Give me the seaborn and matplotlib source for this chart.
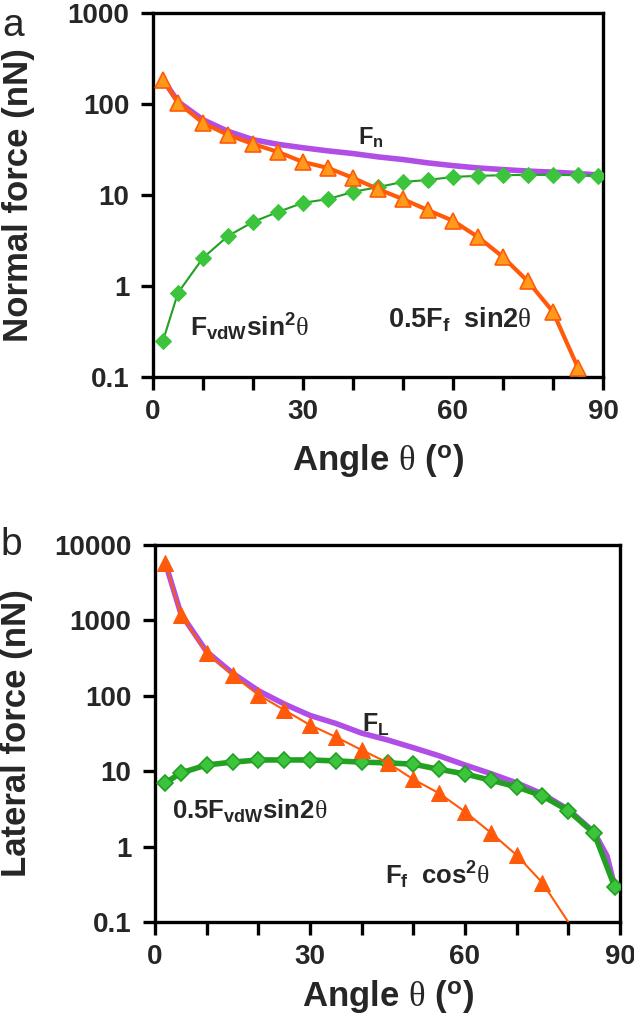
import numpy as np
import pandas as pd
import seaborn as sns
import matplotlib.pyplot as plt
from matplotlib.ticker import FixedLocator, MultipleLocator, NullLocator

# ---- panel a: normal force ----
angle_ff_a = [2, 5, 10, 15, 20, 25, 30, 35, 40, 45, 50, 55, 60, 65, 70, 75, 80, 85, 90]
ff_sin2_a = [185, 103, 62, 45.6, 36.3, 29.7, 23, 19.8, 15.4, 11.6, 9.0, 6.8, 5.2,
             3.45, 2.08, 1.12, 0.52, 0.126, 0.02]
angle_vdw_a = [2, 5, 10, 15, 20, 25, 30, 35, 40, 45, 50, 55, 60, 65, 70, 75, 80, 85, 89]
vdw_sinsq_a = [0.25, 0.84, 2.03, 3.54, 5.05, 6.5, 8.2, 9.0, 10.8, 12.2, 13.9, 14.6,
               15.8, 16.2, 16.5, 16.6, 16.6, 16.5, 16.2]
fn_total = [186, 106, 67, 50, 40.5, 36, 33, 30.5, 28.5, 26.2, 24.5, 22.5, 21, 19.8,
            19, 18.3, 17.8, 17.2, 16.6]

# ---- panel b: lateral force ----
angle_ff_b = [2, 5, 10, 15, 20, 25, 30, 35, 40, 45, 50, 55, 60, 65, 70, 75, 85]
ff_cossq_b = [5800, 1180, 370, 189, 103, 65, 41, 28.5, 19.1, 13, 7.8, 5.1, 2.9,
              1.53, 0.77, 0.33, 0.03]
angle_vdw_b = [2, 5, 10, 15, 20, 25, 30, 35, 40, 45, 50, 55, 60, 65, 70, 75, 80, 85, 89]
vdw_sin2_b = [7.0, 9.5, 12.1, 13.2, 14.1, 14.1, 14.1, 13.7, 13.2, 12.9, 12.4, 10.6,
              9.2, 7.6, 6.2, 4.7, 3.0, 1.5, 0.29]
angle_fl = [2, 5, 10, 15, 20, 25, 30, 35, 40, 45, 50, 55, 60, 65, 70, 75, 80, 85, 87.5, 89]
fl_total = [5800, 1230, 385, 200, 117, 78, 55, 43, 32, 26, 20.5, 16, 12.1, 9.3, 7.0,
            5.0, 3.1, 1.55, 0.75, 0.29]

yticks_a = [0.1, 1, 10, 100, 1000]
yticks_b = [0.1, 1, 10, 100, 1000, 10000]
ytick_labels_a = ['0.1', '1', '10', '100', '1000']
ytick_labels_b = ['0.1', '1', '10', '100', '1000', '10000']
xticks = [0, 30, 60, 90]

sns.set_style("ticks")
plt.rcParams['font.family'] = ['Liberation Sans', 'DejaVu Sans']
plt.rcParams['font.weight'] = 'bold'
plt.rcParams['mathtext.fontset'] = 'custom'
plt.rcParams['mathtext.rm'] = 'Liberation Sans:bold'
plt.rcParams['mathtext.bf'] = 'Liberation Sans:bold'
# greek theta in a plain serif face, like the original
plt.rcParams['mathtext.it'] = 'Liberation Serif:weight=normal:style=normal'

purple = '#b04ee6'
orange_line = '#ff5a0a'
orange_face = '#ff9a1a'
green_line = '#22a022'
green_face = '#3cc43c'

fig = plt.figure(figsize=(6.34, 10.18), dpi=100)
ax1 = fig.add_axes([0.2413, 0.6297, 0.7098, 0.3576])
ax2 = fig.add_axes([0.2445, 0.0943, 0.7334, 0.3703])

# panel a
sns.lineplot(x=angle_vdw_a, y=fn_total, ax=ax1, color=purple, linewidth=4, zorder=2)
sns.lineplot(x=angle_vdw_a, y=vdw_sinsq_a, ax=ax1, color=green_line, linewidth=1.5,
             marker='D', markersize=8, markerfacecolor=green_face,
             markeredgecolor=green_face, zorder=3)
sns.lineplot(x=angle_ff_a, y=ff_sin2_a, ax=ax1, color=orange_line, linewidth=3,
             marker='^', markersize=11, markerfacecolor=orange_face,
             markeredgecolor=orange_line, markeredgewidth=1.2, zorder=4)

# panel b
sns.lineplot(x=angle_fl, y=fl_total, ax=ax2, color=purple, linewidth=4, zorder=2)
sns.lineplot(x=angle_vdw_b, y=vdw_sin2_b, ax=ax2, color=green_line, linewidth=4,
             marker='D', markersize=8, markerfacecolor=green_face,
             markeredgecolor=green_line, markeredgewidth=1.2, zorder=3)
sns.lineplot(x=angle_ff_b, y=ff_cossq_b, ax=ax2, color=orange_line, linewidth=1.5,
             marker='^', markersize=12, markerfacecolor=orange_line,
             markeredgecolor=orange_line, zorder=4)

for ax, yt, ylab, ytxt in [(ax1, yticks_a, ytick_labels_a, 'Normal force (nN)'),
                           (ax2, yticks_b, ytick_labels_b, 'Lateral force (nN)')]:
    ax.set_yscale('log')
    ax.set_xlim(0, 90)
    ax.set_ylim(yt[0], yt[-1])
    ax.yaxis.set_major_locator(FixedLocator(yt))
    ax.yaxis.set_minor_locator(NullLocator())
    ax.set_yticklabels(ylab)
    ax.xaxis.set_major_locator(FixedLocator(xticks))
    ax.xaxis.set_minor_locator(MultipleLocator(10))
    ax.tick_params(axis='both', which='both', direction='out', length=9, width=2.4,
                   labelsize=20, color='black')
    ax.tick_params(axis='y', pad=8)
    ax.tick_params(axis='x', pad=7)
    for s in ax.spines.values():
        s.set_linewidth(2.4)
        s.set_color('black')
    ax.set_ylabel(ytxt, fontsize=25, fontweight='bold')
    ax.set_xlabel(r'Angle $\theta$ ($^{\mathrm{o}}$)', fontsize=25,
                  fontweight='bold')

ax1.yaxis.set_label_coords(-0.262, 0.5)
ax1.xaxis.set_label_coords(0.5, -0.18)
ax2.yaxis.set_label_coords(-0.262, 0.5)
ax2.xaxis.set_label_coords(0.5, -0.148)

# in-plot labels
ax1.text(41, 43, r'$\mathrm{F_n}$', fontsize=17, va='center', ha='left')
ax1.text(7.4, 0.35, r'$\mathrm{F_{vdW}sin^2}\theta$', fontsize=19,
         va='center', ha='left')
ax1.text(47, 0.42, r'$\mathrm{0.5F_f\ \ sin2}\theta$', fontsize=19.5,
         va='center', ha='left')
ax2.text(40, 41, r'$\mathrm{F_L}$', fontsize=18, va='center', ha='left')
ax2.text(3.3, 2.9, r'$\mathrm{0.5F_{vdW}sin2}\theta$', fontsize=18.5,
         va='center', ha='left')
ax2.text(44.5, 0.42, r'$\mathrm{F_f\ \ cos^2}\theta$', fontsize=18.5,
         va='center', ha='left')

fig.text(0.003, 0.992, 'a', fontsize=28, fontweight='normal', va='top', ha='left')
fig.text(0.0, 0.482, 'b', fontsize=28, fontweight='normal', va='top', ha='left')

fig.savefig('out.png', dpi=100)
